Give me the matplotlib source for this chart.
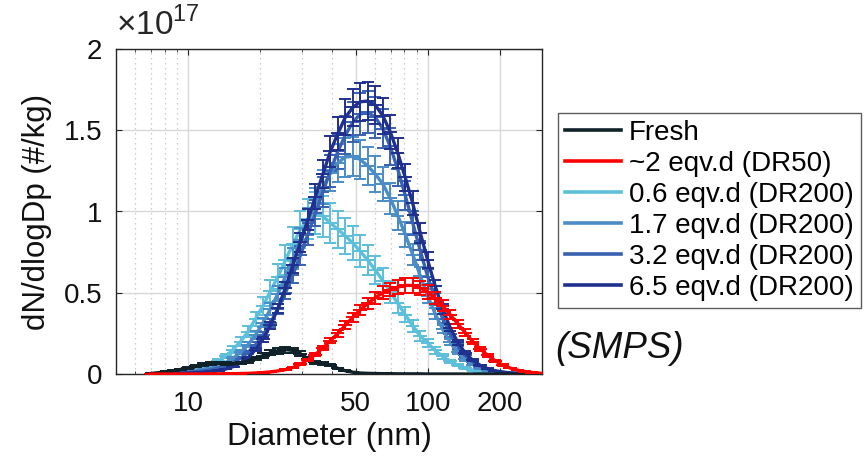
import matplotlib
matplotlib.use("Agg")
import matplotlib.pyplot as plt
from matplotlib.lines import Line2D
from matplotlib.ticker import FixedLocator, FixedFormatter, NullFormatter
import numpy as np

plt.rcParams['font.family'] = ['Liberation Sans', 'DejaVu Sans']
plt.rcParams['mathtext.fontset'] = 'custom'
plt.rcParams['mathtext.rm'] = 'Liberation Sans'

# Diameter bins (nm)
diameter = [6.98, 7.50, 8.06, 8.66, 9.31, 10.0, 10.75, 11.55, 12.41, 13.34,
            14.33, 15.40, 16.55, 17.78, 19.11, 20.54, 22.07, 23.71, 25.48, 27.38,
            29.43, 31.62, 33.98, 36.52, 39.24, 42.17, 45.32, 48.70, 52.33, 56.23,
            60.43, 64.94, 69.78, 74.99, 80.58, 86.60, 93.06, 100.0, 107.5, 115.5,
            124.1, 133.4, 143.3, 154.0, 165.5, 177.8, 191.1, 205.4, 220.7, 237.1,
            254.8, 273.8, 294.3]

# dN/dlogDp in units of 1e17 #/kg
fresh = [0.003, 0.008, 0.014, 0.020, 0.028, 0.037, 0.047, 0.058, 0.066, 0.068,
         0.064, 0.062, 0.068, 0.080, 0.096, 0.113, 0.130, 0.143, 0.150, 0.145,
         0.125, 0.095, 0.072, 0.065, 0.055, 0.035, 0.020, 0.011, 0.006, 0.004,
         0.003, 0.002, 0.002, 0.001, 0.001, 0.001, 0.001, 0.0, 0.0, 0.0,
         0.0, 0.0, 0.0, 0.0, 0.0, 0.0, 0.0, 0.0, 0.0, 0.0,
         0.0, 0.0, 0.0]
dr50_2d = [0.0, 0.0, 0.0, 0.0, 0.0, 0.0, 0.0, 0.0, 0.001, 0.001,
           0.002, 0.002, 0.003, 0.004, 0.006, 0.009, 0.013, 0.019, 0.027, 0.040,
           0.060, 0.088, 0.120, 0.160, 0.205, 0.250, 0.300, 0.350, 0.395, 0.435,
           0.470, 0.500, 0.520, 0.535, 0.545, 0.545, 0.530, 0.505, 0.465, 0.420,
           0.365, 0.310, 0.255, 0.200, 0.155, 0.115, 0.082, 0.056, 0.037, 0.024,
           0.015, 0.009, 0.005]
dr200_06d = [0.002, 0.004, 0.006, 0.009, 0.013, 0.018, 0.028, 0.040, 0.055, 0.080,
             0.110, 0.150, 0.200, 0.260, 0.340, 0.420, 0.510, 0.600, 0.700, 0.800,
             0.890, 0.955, 0.990, 0.970, 0.930, 0.890, 0.850, 0.805, 0.755, 0.700,
             0.640, 0.575, 0.505, 0.435, 0.365, 0.295, 0.235, 0.190, 0.145, 0.108,
             0.078, 0.055, 0.037, 0.024, 0.015, 0.009, 0.005, 0.003, 0.002, 0.001,
             0.001, 0.0, 0.0]
dr200_17d = [0.001, 0.003, 0.005, 0.007, 0.010, 0.014, 0.019, 0.026, 0.036, 0.050,
             0.070, 0.097, 0.133, 0.180, 0.240, 0.315, 0.400, 0.495, 0.600, 0.710,
             0.825, 0.940, 1.050, 1.150, 1.235, 1.300, 1.335, 1.340, 1.320, 1.280,
             1.230, 1.170, 1.080, 0.975, 0.860, 0.735, 0.605, 0.480, 0.370, 0.275,
             0.195, 0.135, 0.090, 0.058, 0.036, 0.022, 0.013, 0.008, 0.005, 0.003,
             0.002, 0.001, 0.0]
dr200_32d = [0.001, 0.002, 0.003, 0.005, 0.007, 0.010, 0.014, 0.019, 0.026, 0.036,
             0.050, 0.070, 0.097, 0.133, 0.180, 0.240, 0.315, 0.400, 0.500, 0.610,
             0.730, 0.860, 0.990, 1.120, 1.250, 1.370, 1.470, 1.550, 1.600, 1.610,
             1.580, 1.510, 1.400, 1.260, 1.100, 0.930, 0.760, 0.600, 0.460, 0.340,
             0.245, 0.170, 0.115, 0.075, 0.048, 0.030, 0.018, 0.011, 0.006, 0.004,
             0.002, 0.001, 0.001]
dr200_65d = [0.001, 0.001, 0.002, 0.003, 0.004, 0.006, 0.008, 0.011, 0.015, 0.021,
             0.030, 0.045, 0.068, 0.100, 0.150, 0.215, 0.300, 0.405, 0.530, 0.670,
             0.810, 0.950, 1.090, 1.230, 1.370, 1.480, 1.580, 1.640, 1.675, 1.680,
             1.655, 1.590, 1.490, 1.360, 1.210, 1.050, 0.870, 0.700, 0.540, 0.400,
             0.285, 0.195, 0.130, 0.085, 0.054, 0.033, 0.020, 0.012, 0.007, 0.004,
             0.002, 0.001, 0.001]

series_labels = ['Fresh', '~2 eqv.d (DR50)', '0.6 eqv.d (DR200)',
                 '1.7 eqv.d (DR200)', '3.2 eqv.d (DR200)', '6.5 eqv.d (DR200)']
series_values = [fresh, dr50_2d, dr200_06d, dr200_17d, dr200_32d, dr200_65d]
rel_yerr = [0.12, 0.08, 0.13, 0.09, 0.08, 0.07]
rel_xerr = 0.065
colors = ['#0f2229', '#ff0000', '#5cbfdb', '#4a8cc6', '#3862b0', '#20308e']
draw_z = [5, 6, 1, 2, 3, 4]

x_ticks = [10, 50, 100, 200]
x_minor = [6, 7, 8, 9, 20, 30, 40, 60, 70, 80, 90]
y_ticks = [0, 0.5, 1, 1.5, 2]
y_ticklabels = ['0', '0.5', '1', '1.5', '2']

fig = plt.figure(figsize=(8.68, 4.65), dpi=100)
ax = fig.add_axes([116/868, 1-374/465, (542-116)/868, (374-49)/465])

d = np.array(diameter)
for vals, col, ry, z in zip(series_values, colors, rel_yerr, draw_z):
    v = np.array(vals)
    zz = 2 + z * 0.1
    # horizontal (diameter) error bars, no caps
    ax.errorbar(d, v, xerr=d*rel_xerr, fmt='none', ecolor=col,
                elinewidth=1.4, capsize=0, zorder=zz)
    # vertical error bars with caps and the line itself
    ax.errorbar(d, v, yerr=v*ry, fmt='-', color=col,
                lw=2.4, elinewidth=1.4, capsize=4.0, capthick=1.4,
                zorder=zz)

ax.set_xscale('log')
ax.set_xlim(5, 300)
ax.set_ylim(0, 2)

ax.xaxis.set_major_locator(FixedLocator(x_ticks))
ax.xaxis.set_major_formatter(FixedFormatter([str(t) for t in x_ticks]))
ax.xaxis.set_minor_locator(FixedLocator(x_minor))
ax.xaxis.set_minor_formatter(NullFormatter())
ax.yaxis.set_major_locator(FixedLocator(y_ticks))
ax.yaxis.set_major_formatter(FixedFormatter(y_ticklabels))

ax.grid(True, which='major', color='#d8d8d8', lw=1.0, ls='-')
ax.grid(True, which='minor', axis='x', color='#bdbdbd', lw=0.9, ls=(0, (1, 3)))
ax.set_axisbelow(True)

ax.tick_params(axis='both', which='both', direction='in', top=True, right=True,
               colors='#262626', labelcolor='#111111', labelsize=20)
ax.tick_params(axis='both', which='major', length=4, width=0.8)
ax.tick_params(axis='both', which='minor', length=2, width=0.6)
ax.tick_params(axis='x', pad=12)
ax.tick_params(axis='y', pad=10)
for s in ax.spines.values():
    s.set_color('#262626')
    s.set_linewidth(1.0)

ax.set_xlabel('Diameter (nm)', fontsize=23, color='#111111', labelpad=4)
ax.set_ylabel('dN/dlogDp (#/kg)', fontsize=22.5, color='#111111', labelpad=8)

fig.text(116/868, 1-24/465, r'$\times10^{17}$', fontsize=24, color='#262626',
         ha='left', va='center')

handles = [Line2D([0], [0], color=c, lw=2.6) for c in colors]
leg = fig.legend(handles, series_labels, loc='upper left',
                 bbox_to_anchor=(558/868, 1-113/465), fontsize=20,
                 frameon=True, fancybox=False, edgecolor='#333333',
                 handlelength=2.0, handletextpad=0.3, labelspacing=0.18,
                 borderpad=0.25, borderaxespad=0)
leg.get_frame().set_linewidth(1.0)

fig.text(555/868, 1-348/465, '(SMPS)', fontsize=26.5, style='italic',
         ha='left', va='center', color='#111111')

fig.savefig('out.png', dpi=100)
